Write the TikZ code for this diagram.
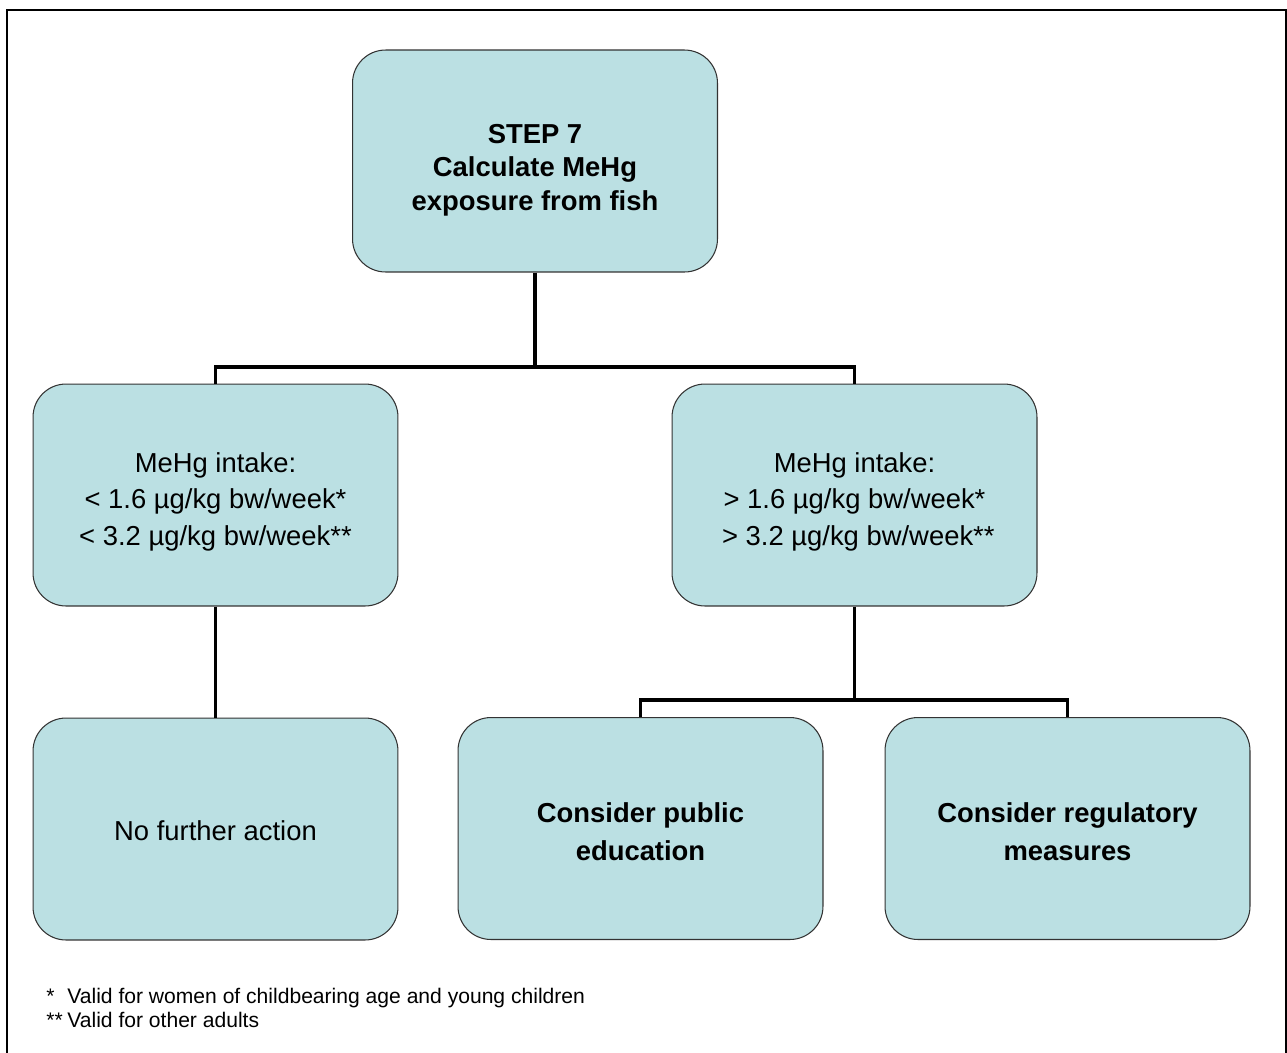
\documentclass[tikz,border=0pt]{standalone}
\usepackage{fontspec}
\setmainfont{Liberation Sans}
\usetikzlibrary{positioning}
\definecolor{boxfill}{RGB}{187,224,227}
\newcommand{\boxlift}[1]{\rule{0pt}{#1}}

\begin{document}
\begin{tikzpicture}[
    x=0.02cm, y=-0.02cm,
    font=\fontsize{15.6}{20.7}\selectfont,
    block/.style={
		rectangle,
		rounded corners=0.66cm,
		draw=black!80,
		line width=0.6pt,
		fill=boxfill,
		align=center,
		minimum width=7.3cm,
		minimum height=4.44cm,
		inner sep=0pt
	},
	heading/.style={
		block,
		font=\fontsize{15.6}{19.3}\selectfont\bfseries
	},
	action/.style={
		block,
		font=\fontsize{15.6}{21.5}\selectfont\bfseries
	},
	link/.style={
		draw,
		line width=2pt
	},
	note/.style={
		anchor=base west,
		inner sep=0pt,
		font=\fontsize{12}{14}\selectfont
	}
  ]
  \useasboundingbox (0,0) rectangle (1287,1052);
  % outer frame
  \draw [line width=1.2pt] (7,10) rectangle (1286,1080);

  % We start by placing the blocks
  \node [heading] (step7) at (535,161)
 {\boxlift{21.4pt}STEP 7\\ Calculate MeHg\\ exposure from fish};

  \node [block] (low) at (215.5,495)
 {\boxlift{19pt}MeHg intake:\\ < 1.6 µg/kg bw/week*\\ < 3.2 µg/kg bw/week**};

  \node [block] (high) at (854.5,495)
 {\boxlift{19pt}MeHg intake:\\ > 1.6 µg/kg bw/week*\\ \ > 3.2 µg/kg bw/week**};

  \node [block] (noaction) at (215.5,829)
 {\boxlift{13.7pt}No further action};

  \node [action] (education) at (640.5,828.5)
 {\boxlift{14.8pt}Consider public\\ education};

  \node [action] (regulatory) at (1067.5,828.5)
 {\boxlift{14.8pt}Consider regulatory\\ measures};

  % footnotes
  \node [note] (note1) at (46,1003)
 {\makebox[0.42cm][l]{*}Valid for women of childbearing age and young children};
  \node [note] (note2) at (46,1027)
 {\makebox[0.42cm][l]{**}Valid for other adults};

  % then the connectors
  \coordinate (fork1) at (535,367);
  \coordinate (fork2) at (854.5,700);

  \draw [link] (step7.south) -- (fork1);
  \draw [link] (fork1) -| (low.north);
  \draw [link] (fork1) -| (high.north);
  \draw [link] (low.south) -- (noaction.north);
  \draw [link] (high.south) -- (fork2);
  \draw [link] (fork2) -| (education.north);
  \draw [link] (fork2) -| (regulatory.north);

\end{tikzpicture}
\end{document}
